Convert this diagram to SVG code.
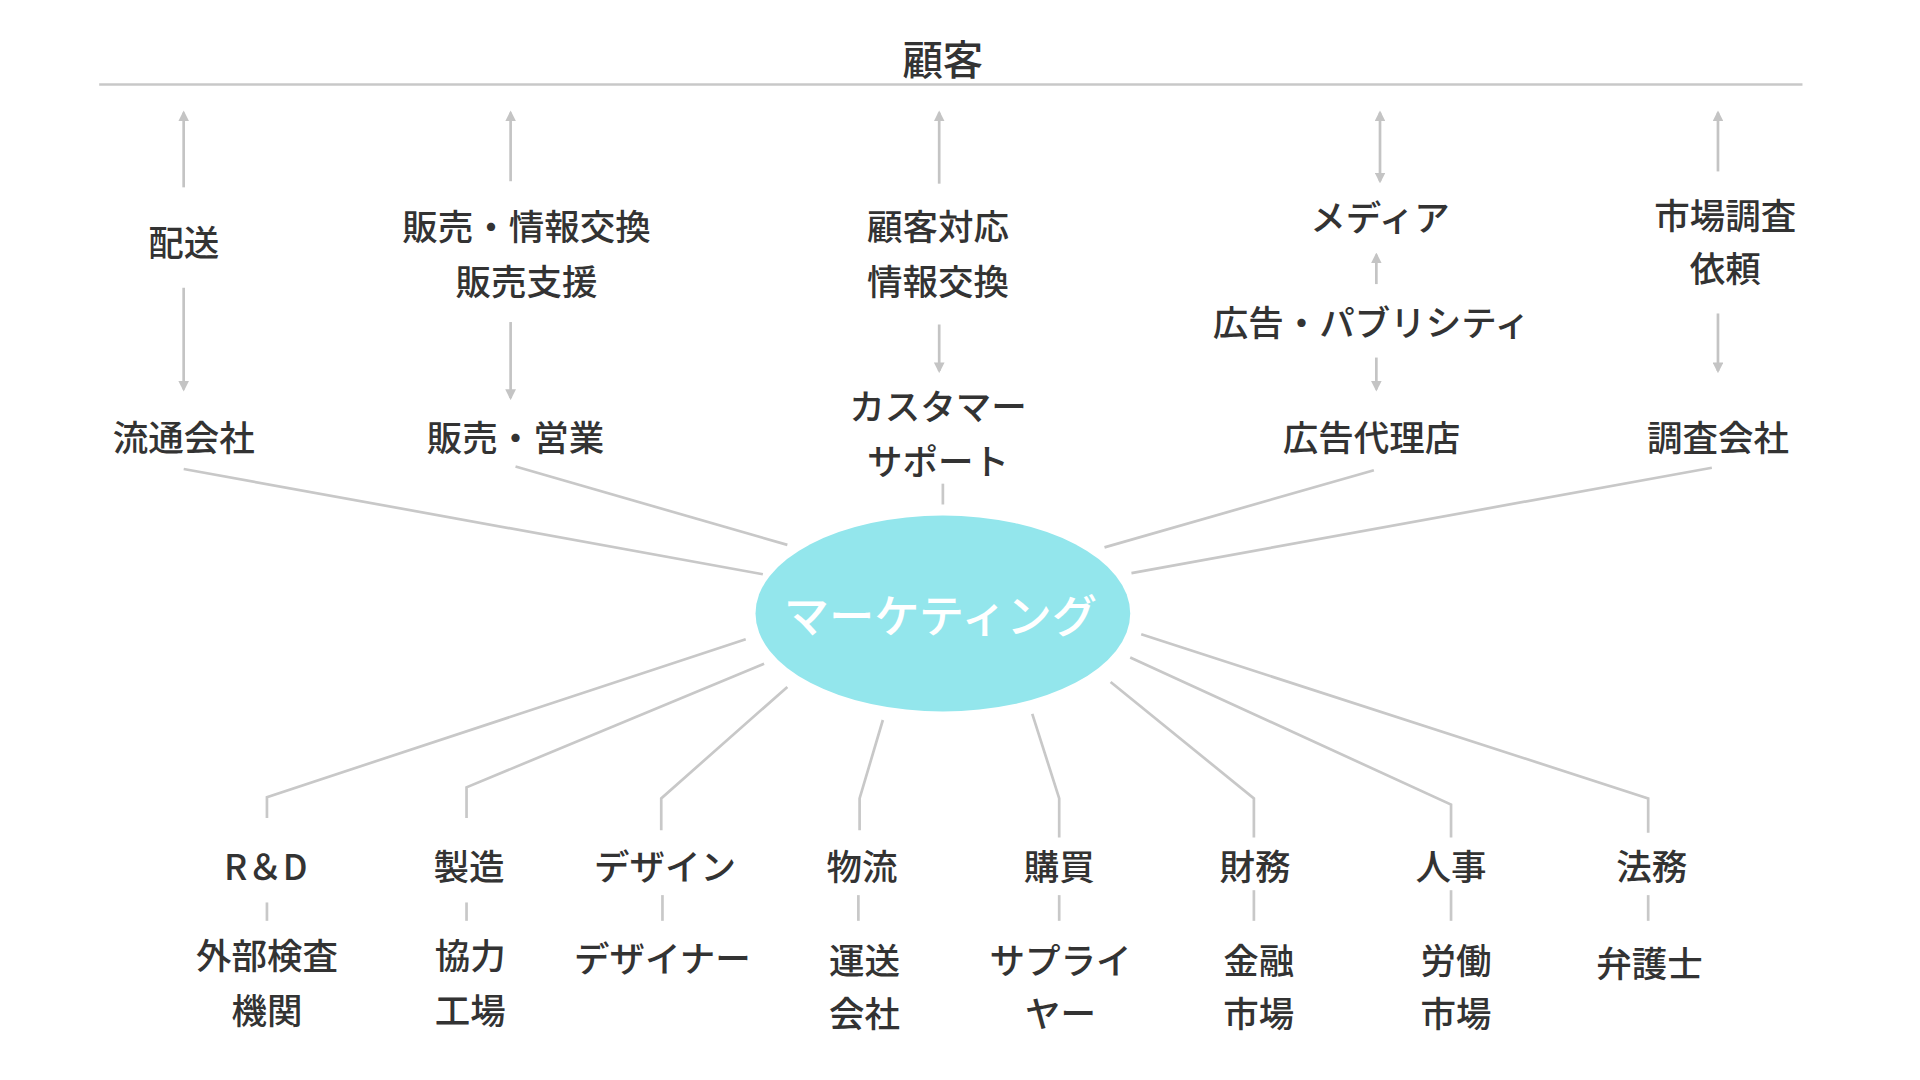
<svg xmlns="http://www.w3.org/2000/svg" width="1920" height="1080" viewBox="0 0 1920 1080">
<defs>
<marker id="ah" viewBox="0 0 10 10" refX="8" refY="5" markerWidth="4" markerHeight="4" orient="auto-start-reverse"><path d="M0,0L10,5L0,10z" fill="#c4c4c4"/></marker>
<style>
text{font-family:"Noto Sans CJK JP","Noto Sans",sans-serif;font-size:29px;font-weight:500;fill:#333;text-anchor:middle;dominant-baseline:central}
.l{stroke:#c8c8c8;stroke-width:2.2;fill:none}
.a{stroke:#c4c4c4;stroke-width:2.2;fill:none;marker-end:url(#ah)}
.b{stroke:#c4c4c4;stroke-width:2.2;fill:none;marker-start:url(#ah);marker-end:url(#ah)}
</style>
</defs>
<rect width="1920" height="1080" fill="#fff"/>
<g transform="scale(1.2245)">
<g id="connectors">
<line class="l" x1="81" y1="69" x2="1472" y2="69"/>
<line class="a" x1="150" y1="153" x2="150" y2="92"/>
<line class="a" x1="150" y1="235" x2="150" y2="318"/>
<line class="a" x1="417" y1="148" x2="417" y2="92"/>
<line class="a" x1="417" y1="263" x2="417" y2="325"/>
<line class="a" x1="767" y1="150" x2="767" y2="92"/>
<line class="a" x1="767" y1="265" x2="767" y2="303"/>
<line class="l" x1="770" y1="395" x2="770" y2="412"/>
<line class="b" x1="1127" y1="92" x2="1127" y2="148"/>
<line class="a" x1="1124" y1="232" x2="1124" y2="208"/>
<line class="a" x1="1124" y1="292" x2="1124" y2="318"/>
<line class="a" x1="1403" y1="140" x2="1403" y2="92"/>
<line class="a" x1="1403" y1="256" x2="1403" y2="303"/>
<line class="l" x1="150" y1="383" x2="623" y2="469"/>
<line class="l" x1="421" y1="381" x2="643" y2="445"/>
<line class="l" x1="1122" y1="384" x2="902" y2="447"/>
<line class="l" x1="1398" y1="382" x2="924" y2="468"/>
<polyline class="l" points="609,522 218,651 218,668"/>
<polyline class="l" points="624,542 381,643 381,668"/>
<polyline class="l" points="643,561 540,652 540,678"/>
<polyline class="l" points="721,588 702,652 702,678"/>
<polyline class="l" points="843,583 865,652 865,684"/>
<polyline class="l" points="907,557 1024,652 1024,684"/>
<polyline class="l" points="923,537 1185,657 1185,684"/>
<polyline class="l" points="932,518 1346,652 1346,680"/>
<line class="l" x1="218" y1="737" x2="218" y2="752"/>
<line class="l" x1="381" y1="737" x2="381" y2="752"/>
<line class="l" x1="541" y1="731" x2="541" y2="752"/>
<line class="l" x1="701" y1="731" x2="701" y2="752"/>
<line class="l" x1="865" y1="731" x2="865" y2="752"/>
<line class="l" x1="1024" y1="727" x2="1024" y2="752"/>
<line class="l" x1="1185" y1="727" x2="1185" y2="752"/>
<line class="l" x1="1346" y1="731" x2="1346" y2="752"/>
</g>
<g id="customer"><text x="770" y="47" style="font-size:33px">顧客</text></g>
<g id="marketing"><ellipse cx="770" cy="501" rx="153" ry="80" fill="#93e6ec"/><text x="768" y="501" style="font-size:37px;fill:#fff">マーケティング</text></g>
<g id="haiso"><text x="150" y="196">配送</text></g>
<g id="ryutsu"><text x="150" y="356">流通会社</text></g>
<g id="hanbai-info"><text x="430" y="183">販売・情報交換</text><text x="430" y="228">販売支援</text></g>
<g id="hanbai"><text x="421" y="356">販売・営業</text></g>
<g id="kokyaku-taio"><text x="766" y="183">顧客対応</text><text x="766" y="228">情報交換</text></g>
<g id="support"><text x="766" y="330">カスタマー</text><text x="766" y="375">サポート</text></g>
<g id="media"><text x="1127" y="176">メディア</text></g>
<g id="kokoku"><text x="1120" y="262">広告・パブリシティ</text></g>
<g id="dairiten"><text x="1120" y="356">広告代理店</text></g>
<g id="chosa-irai"><text x="1409" y="174">市場調査</text><text x="1409" y="218">依頼</text></g>
<g id="chosa"><text x="1403" y="356">調査会社</text></g>
<g id="rd"><text x="217" y="706">R＆D</text><text x="218" y="779">外部検査</text><text x="218" y="824">機関</text></g>
<g id="seizo"><text x="383" y="706">製造</text><text x="384" y="779">協力</text><text x="384" y="824">工場</text></g>
<g id="design"><text x="543" y="706">デザイン</text><text x="541" y="781">デザイナー</text></g>
<g id="butsuryu"><text x="704" y="706">物流</text><text x="706" y="783">運送</text><text x="706" y="826">会社</text></g>
<g id="kobai"><text x="865" y="706">購買</text><text x="866" y="783">サプライ</text><text x="866" y="826">ヤー</text></g>
<g id="zaimu"><text x="1025" y="706">財務</text><text x="1028" y="783">金融</text><text x="1028" y="826">市場</text></g>
<g id="jinji"><text x="1185" y="706">人事</text><text x="1189" y="783">労働</text><text x="1189" y="826">市場</text></g>
<g id="homu"><text x="1349" y="706">法務</text><text x="1347" y="785">弁護士</text></g>
</g>
</svg>
